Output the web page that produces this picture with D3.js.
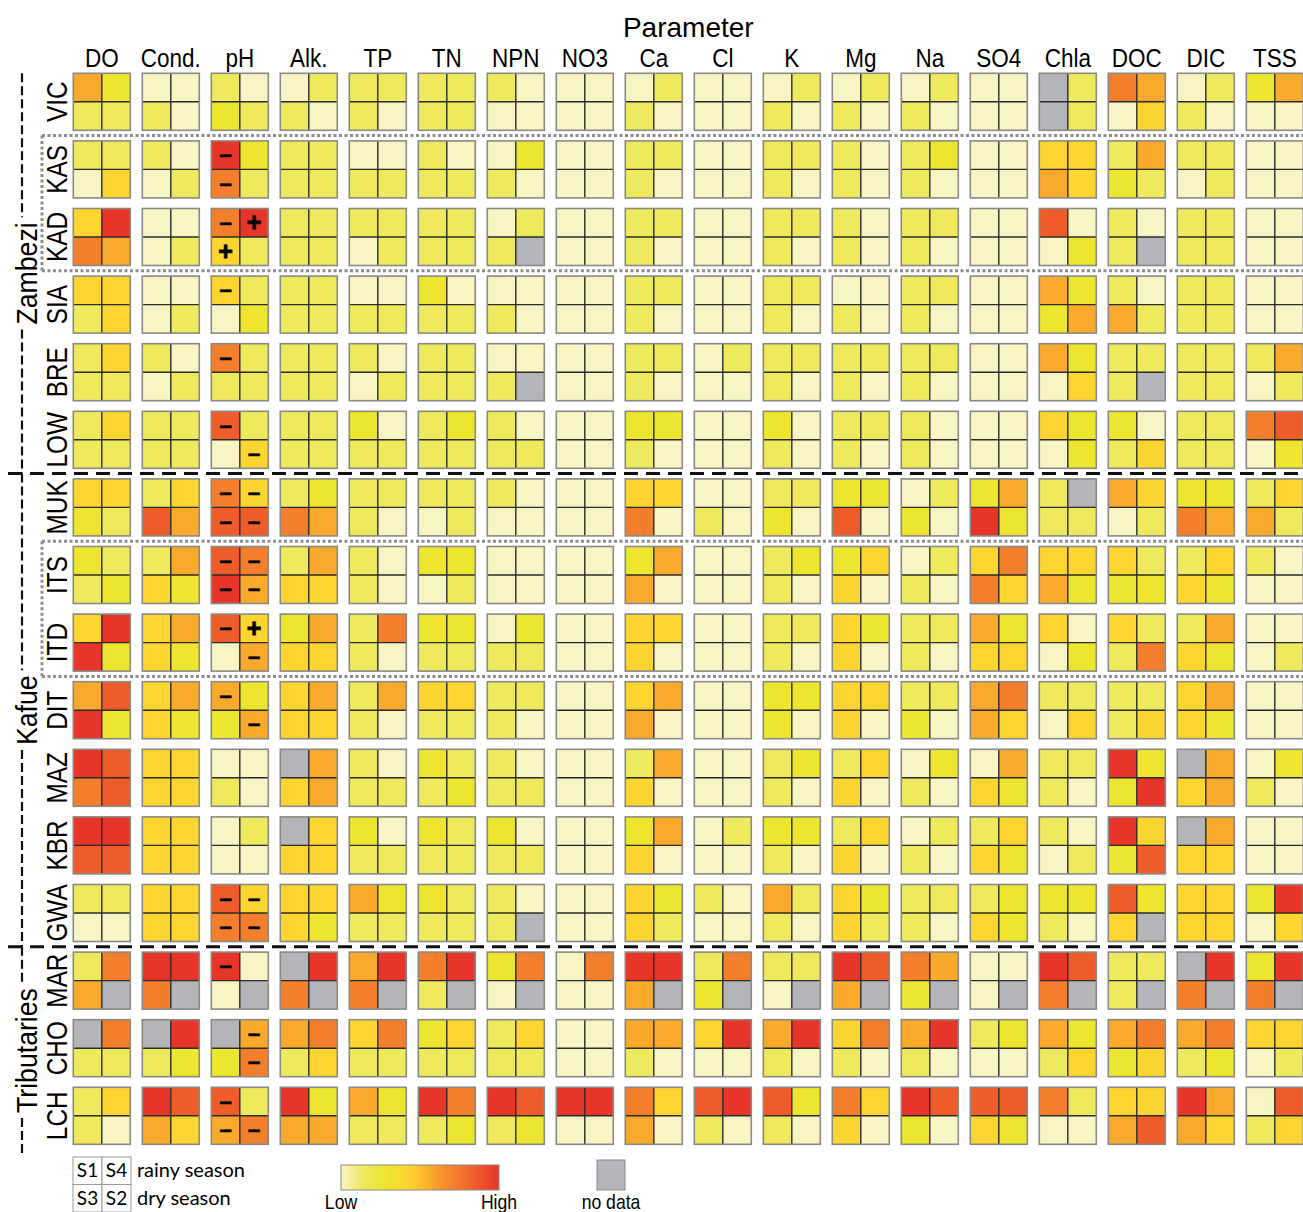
<!DOCTYPE html>
<html><head><meta charset="utf-8">
<script src="https://cdn.jsdelivr.net/npm/d3@7"></script>
<style>body{margin:0;background:#fff}svg{display:block}</style>
</head><body>
<script>
// ---------- data ----------
const params = ["DO","Cond.","pH","Alk.","TP","TN","NPN","NO3","Ca","Cl","K","Mg","Na","SO4","Chla","DOC","DIC","TSS"];
const sites = ["VIC","KAS","KAD","SIA","BRE","LOW","MUK","ITS","ITD","DIT","MAZ","KBR","GWA","MAR","CHO","LCH"];
const groupNames = ["Zambezi","Kafue","Tributaries"];
const groupFirst = ["VIC","MUK","MAR"];
const groupLast = ["LOW","GWA","LCH"];
const boxedFirst = ["KAS","ITS"];
const boxedLast = ["KAD","ITD"];
const seasonLabels = ["S1","S4","S3","S2"];
const seasonTexts = ["rainy season","dry season"];
// each entry: level per sampling [S1,S4,S3,S2], 0 = low ... 7 = high, x = no data
const VIC = ["4211","0010","1021","0110","1110","1111","1000","0000","0110","0000","0110","0110","0110","0000","x1x1","5403","0110","2400"];
const KAS = ["1103","1001","7251","1111","0011","1011","0210","0000","1110","0000","1110","1010","1210","0000","3343","1421","1101","0000"];
const KAD = ["3754","0001","5731","1111","1101","1111","011x","0000","1110","0000","1110","1010","1110","0000","6002","101x","1111","0000"];
const SIA = ["3313","0001","3102","1111","0011","2011","0010","0000","1110","0000","1110","0010","1110","0000","4224","1041","1111","0000"];
const BRE = ["1311","1001","5111","1111","1001","1111","001x","0000","1110","0100","1110","1110","1110","0000","4203","111x","1111","1401"];
const LOW = ["1311","1111","6103","1111","2011","1211","1011","0000","2210","0000","2010","1110","1010","0000","3202","2013","1111","5602"];
const MUK = ["3321","1364","5366","1254","1110","1101","1000","0000","3350","0010","1120","2260","0120","2472","1x11","4301","2254","1341"];
const ITS = ["2112","1432","6574","1433","1010","2201","0000","0000","2440","0000","1210","2330","0110","3553","3342","3122","1332","1000"];
const ITD = ["3772","3432","6304","2433","1510","2211","0211","0000","3330","0000","1110","3230","1110","4233","3002","3115","1432","0001"];
const DIT = ["4672","3432","4224","3433","1410","3311","1110","0000","3440","0000","2220","3330","1120","4543","1103","1113","3432","0000"];
const MAZ = ["7656","3333","0010","x434","1011","2112","1011","0000","1430","0000","1210","1330","0210","0432","1110","7227","x434","0210"];
const KBR = ["7766","3333","0100","x333","2011","2111","2011","0000","2430","0100","2210","1330","0110","1332","1001","7326","x433","0000"];
const GWA = ["1100","3333","6355","3332","4211","2111","101x","0000","3231","1000","4110","3231","1110","1232","2210","623x","3333","2703"];
const MAR = ["154x","775x","700x","x75x","475x","571x","250x","0500","774x","152x","110x","764x","542x","000x","765x","111x","x75x","275x"];
const CHO = ["x511","x712","x425","4513","3511","2311","1311","0000","4410","3700","4710","3510","4710","1200","4213","4523","4512","3301"];
const LCH = ["1310","7643","6145","7244","4211","7512","7612","7700","5340","6710","6210","5330","7620","6632","5100","3346","7443","0613"];
// pH trend signs per sampling [S1,S4,S3,S2]
const signParam = "pH";
const pHSigns = {KAS:"-.-.",KAD:"-++.",SIA:"-...",BRE:"-...",LOW:"-..-",MUK:"----",ITS:"----",ITD:"-+.-",DIT:"-..-",GWA:"----",MAR:"-...",CHO:".-.-",LCH:"-.--"};

const siteData = {VIC,KAS,KAD,SIA,BRE,LOW,MUK,ITS,ITD,DIT,MAZ,KBR,GWA,MAR,CHO,LCH};

// ---------- drawing ----------
const W = 1303, H = 1212;
const FONT = "'Liberation Sans',Arial,sans-serif";
const levelColors = ["#f8f4c4","#efe95e","#ede52e","#fdd530","#f9aa2c","#f37f2d","#ee5c2a","#e8352a"];
const noDataColor = "#b3b5b8";
const color = d3.scaleLinear().domain(d3.range(levelColors.length)).range(levelColors).clamp(true);

const svg = d3.select("body").append("svg").attr("width", W).attr("height", H);

const x = d3.scaleBand().domain(params).range([73.3, 73.3 + 69 * params.length - 12]).paddingInner(12 / 69);
const y = d3.scaleBand().domain(sites).range([73.3, 73.3 + 67.6 * sites.length - 10.6]).paddingInner(10.6 / 67.6);
const bw = x.bandwidth(), bh = y.bandwidth();
const sx = d3.scaleBand().domain([0, 1]).range([0, bw]);
const sy = d3.scaleBand().domain([0, 1]).range([0, bh]);
const sepBelow = s => y(s) + bh + (y.step() - bh) / 2;
const sepAbove = s => y(s) - (y.step() - bh) / 2;

// titles
svg.append("text").attr("x", x(params[0]) + (x(params[params.length-1]) + bw - x(params[0])) / 2).attr("y", 37)
  .attr("text-anchor", "middle").attr("font-family", FONT).attr("font-size", 28).text("Parameter");
svg.append("g").selectAll("text").data(params).join("text")
  .attr("transform", d => `translate(${x(d) + bw / 2},67) scale(0.9,1)`).attr("text-anchor", "middle")
  .attr("font-family", FONT).attr("font-size", 25).text(d => d);

// separators (drawn first, under cells)
const gSep = svg.append("g");
groupFirst.slice(1).forEach(s => {
  const yy = sepAbove(s);
  gSep.append("line").attr("x1", 8).attr("x2", W).attr("y1", yy).attr("y2", yy)
    .attr("stroke", "#111").attr("stroke-width", 3).attr("stroke-dasharray", "14,8");
});
boxedFirst.forEach((s, i) => {
  const y1 = sepAbove(s), y2 = sepBelow(boxedLast[i]);
  [y1, y2].forEach(yy => gSep.append("line").attr("x1", 42).attr("x2", W).attr("y1", yy).attr("y2", yy)
    .attr("stroke", "#8e8e8e").attr("stroke-width", 3).attr("stroke-dasharray", "3,2.5"));
  gSep.append("line").attr("x1", 42).attr("x2", 42).attr("y1", y1).attr("y2", y2)
    .attr("stroke", "#8e8e8e").attr("stroke-width", 3).attr("stroke-dasharray", "3,2.5");
});

// cells
const cells = [];
sites.forEach(s => params.forEach((p, j) => {
  const code = siteData[s][j];
  for (let k = 0; k < 4; k++) {
    const ch = code[k];
    cells.push({site: s, param: p, k, v: ch === "x" ? null : +ch,
      sign: (p === signParam && pHSigns[s]) ? pHSigns[s][k] : "."});
  }
}));
const gCells = svg.append("g");
gCells.selectAll("rect.sub").data(cells).join("rect").attr("class", "sub")
  .attr("x", d => x(d.param) + sx(d.k % 2)).attr("y", d => y(d.site) + sy(Math.floor(d.k / 2)))
  .attr("width", sx.bandwidth()).attr("height", sy.bandwidth())
  .attr("fill", d => d.v === null ? noDataColor : color(d.v));
const blocks = sites.flatMap(s => params.map(p => ({site: s, param: p})));
const gB = gCells.selectAll("g.block").data(blocks).join("g").attr("class", "block")
  .attr("transform", d => `translate(${x(d.param)},${y(d.site)})`);
gB.append("line").attr("x1", bw / 2).attr("x2", bw / 2).attr("y1", 0).attr("y2", bh).attr("stroke", "#2b2b2b").attr("stroke-width", 1.4);
gB.append("line").attr("x1", 0).attr("x2", bw).attr("y1", bh / 2).attr("y2", bh / 2).attr("stroke", "#2b2b2b").attr("stroke-width", 1.4);
gB.append("rect").attr("width", bw).attr("height", bh).attr("fill", "none").attr("stroke", "#8a8a82").attr("stroke-width", 1.6);

// signs
gCells.selectAll("text.sign").data(cells.filter(d => d.sign !== ".")).join("text").attr("class", "sign")
  .attr("x", d => x(d.param) + sx(d.k % 2) + sx.bandwidth() / 2)
  .attr("y", d => y(d.site) + sy(Math.floor(d.k / 2)) + sy.bandwidth() / 2 + (d.sign === "+" ? 8.5 : 7))
  .attr("text-anchor", "middle").attr("font-family", FONT).attr("font-weight", "bold")
  .attr("font-size", d => d.sign === "+" ? 25 : 22).attr("fill", "#000")
  .attr("stroke", "#000").attr("stroke-width", d => d.sign === "+" ? 0.8 : 0.7)
  .text(d => d.sign === "+" ? "+" : "–");

// site labels
svg.append("g").selectAll("text").data(sites).join("text")
  .attr("transform", d => `translate(67,${y(d) + bh / 2}) rotate(-90) scale(0.84,1)`)
  .attr("text-anchor", "middle").attr("font-family", FONT).attr("font-size", 29).text(d => d);

// group labels with dashed brackets
groupNames.forEach((g, i) => {
  const top = i === 0 ? y(groupFirst[i]) : sepAbove(groupFirst[i]);
  const bot = i === groupNames.length - 1 ? y(groupLast[i]) + bh + 10 : sepBelow(groupLast[i]);
  const cy = (top + bot) / 2;
  const sc = 0.92;
  const t = svg.append("text").attr("transform", `translate(36.5,${cy}) rotate(-90) scale(${sc},1)`)
    .attr("text-anchor", "middle").attr("font-family", FONT).attr("font-size", 29).text(g);
  const len = t.node().getComputedTextLength() * sc;
  [[top, cy - len / 2 - 5], [cy + len / 2 + 5, bot]].forEach(([a, b]) =>
    svg.append("line").attr("x1", 22).attr("x2", 22).attr("y1", a).attr("y2", b)
      .attr("stroke", "#111").attr("stroke-width", 2.2).attr("stroke-dasharray", "9,4"));
});

// legend
const lg = svg.append("g");
const lx = 73, ly = 1157, cw = 29, ch = 27.5;
seasonLabels.forEach((s, k) => {
  const cx = lx + (k % 2) * cw, cyy = ly + Math.floor(k / 2) * ch;
  lg.append("rect").attr("x", cx).attr("y", cyy).attr("width", cw).attr("height", ch)
    .attr("fill", "#fff").attr("stroke", "#9a9a9a").attr("stroke-width", 1);
  lg.append("text").attr("x", cx + cw / 2).attr("y", cyy + ch / 2 + 6.5).attr("text-anchor", "middle")
    .attr("font-family", "Lato,sans-serif").attr("font-size", 19).text(s);
});
seasonTexts.forEach((s, i) => lg.append("text").attr("x", lx + 2 * cw + 6).attr("y", ly + i * ch + ch / 2 + 6.5)
  .attr("font-family", "Lato,sans-serif").attr("font-size", 20).text(s));

const defs = svg.append("defs");
const grad = defs.append("linearGradient").attr("id", "lg");
d3.range(0, 1.0001, 0.05).forEach(t => grad.append("stop").attr("offset", t)
  .attr("stop-color", color(t * (levelColors.length - 1))));
lg.append("rect").attr("x", 341).attr("y", 1165).attr("width", 158).attr("height", 25)
  .attr("fill", "url(#lg)").attr("stroke", "#8a8a8a").attr("stroke-width", 1);
const legTxt = (xx, t) => lg.append("text").attr("transform", `translate(${xx},1209) scale(0.88,1)`)
  .attr("text-anchor", "middle").attr("font-family", FONT).attr("font-size", 20).text(t);
legTxt(341, "Low"); legTxt(499, "High");
lg.append("rect").attr("x", 597).attr("y", 1160).attr("width", 28).attr("height", 30)
  .attr("fill", noDataColor).attr("stroke", "#8a8a8a").attr("stroke-width", 1);
legTxt(611, "no data");
</script>
</body></html>
